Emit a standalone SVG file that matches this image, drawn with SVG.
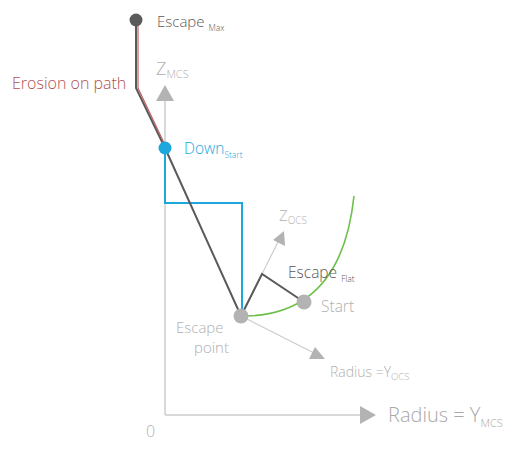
<svg xmlns="http://www.w3.org/2000/svg" width="526" height="450" viewBox="0 0 526 450">
<style>
text{font-family:"Open Sans","Liberation Sans",sans-serif;font-weight:300}
.lg{fill:#b0b0b0}
.dk{fill:#5a5a5a}
.ax{stroke:#cccccc;stroke-width:1.5;fill:none}
.ah{fill:#b3b3b3}
</style>
<rect width="526" height="450" fill="#ffffff"/>
<g id="connectors">
<path class="ax" d="M165 415 V100"/>
<polygon class="ah" points="165,85 174,101 156,101"/>
<path class="ax" d="M165 415 H360"/>
<polygon class="ah" points="376,415 360,406 360,424"/>
<path d="M241 316 L279 240" stroke="#cccccc" stroke-width="1.2" fill="none"/>
<polygon class="ah" points="284,231 285,246 273,240"/>
<path d="M241 316 L314 353" stroke="#cccccc" stroke-width="1.2" fill="none"/>
<polygon class="ah" points="325,359 309,359 315,347"/>
<path d="M246 316 C296 315 344 290 354 196" stroke="#6cc04a" stroke-width="1.6" fill="none"/>
<path d="M165 148 V203 H242 V316" stroke="#1ea7dc" stroke-width="2" fill="none"/>
<path d="M136 20 L136 88 L165 148 L241 316" stroke="#5a5a5a" stroke-width="2" fill="none"/>
<path d="M138 26 L138 88 L165 145" stroke="#c06060" stroke-width="1.2" fill="none"/>
<path d="M241 316 L262 274 L304 302" stroke="#5a5a5a" stroke-width="2" fill="none"/>
</g>
<g id="escape-max">
<circle cx="136" cy="20" r="6.5" fill="#5a5a5a"/>
<text x="157" y="27" font-size="15" class="dk">Escape <tspan font-size="8.5" dy="4">Max</tspan></text>
</g>
<g id="erosion-label">
<text x="12" y="89" font-size="16" fill="#b24f4f">Erosion on path</text>
</g>
<g id="z-mcs">
<text x="156" y="75" font-size="18" class="lg">Z<tspan font-size="11" dy="3">MCS</tspan></text>
</g>
<g id="down-start">
<circle cx="165" cy="148" r="6.5" fill="#1ea7dc"/>
<text x="184" y="154" font-size="15.5" fill="#1ea7dc">Down<tspan font-size="8.5" dy="4">Start</tspan></text>
</g>
<g id="z-ocs">
<text x="279" y="221" font-size="15" class="lg">Z<tspan font-size="10" dy="3">OCS</tspan></text>
</g>
<g id="escape-flat">
<text x="288" y="278" font-size="15.5" class="dk">Escape <tspan font-size="8.5" dy="4">Flat</tspan></text>
</g>
<g id="start">
<circle cx="304" cy="302" r="7.5" fill="#b3b3b3"/>
<text x="321" y="312" font-size="15.5" class="lg">Start</text>
</g>
<g id="escape-point">
<circle cx="241" cy="316" r="7.5" fill="#b3b3b3"/>
<text x="176" y="333" font-size="15" class="lg">Escape</text>
<text x="194" y="353" font-size="15" class="lg">point</text>
</g>
<g id="radius-ocs">
<text x="330" y="377" font-size="14" class="lg">Radius =Y<tspan font-size="9.5" dy="3">OCS</tspan></text>
</g>
<g id="radius-mcs">
<text x="388" y="422" font-size="20" fill="#a8a8a8" font-weight="400">Radius = Y<tspan font-size="11" dy="5">MCS</tspan></text>
</g>
<g id="origin">
<text x="146" y="437" font-size="16" class="lg">0</text>
</g>
</svg>
